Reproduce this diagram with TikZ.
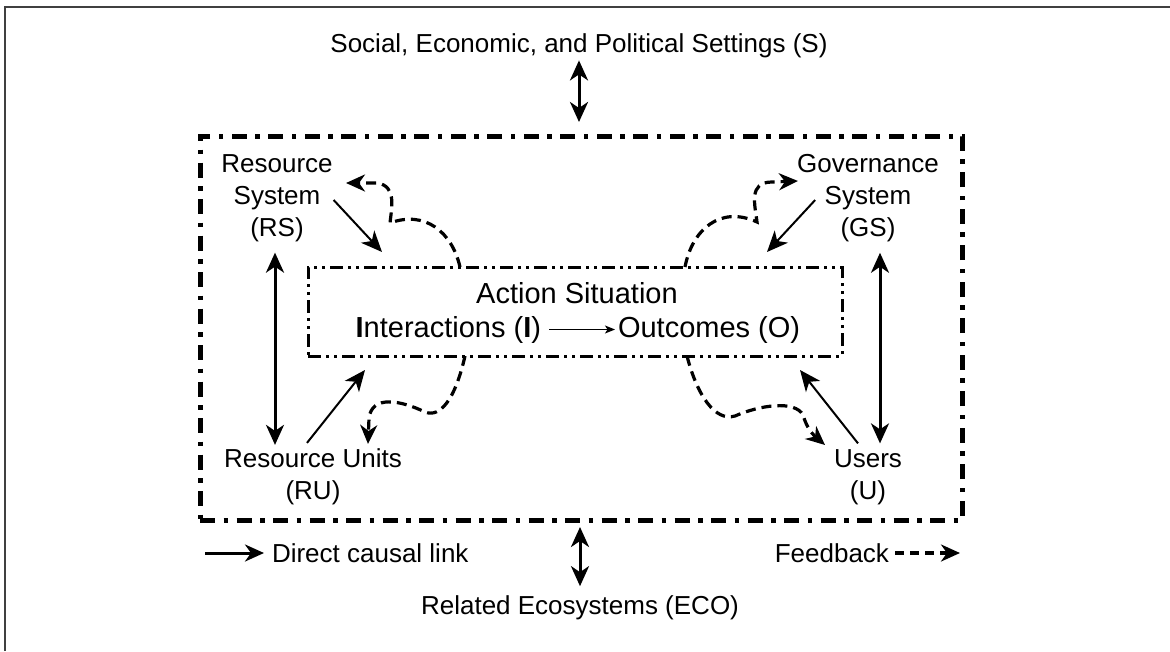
\documentclass[tikz,border=0pt]{standalone}
\usepackage{fontspec}
\setmainfont{Liberation Sans}
\usetikzlibrary{arrows.meta}
\begin{document}
\begin{tikzpicture}[x=1pt,y=-1pt,
 lab/.style={font=\fontsize{26}{32}\selectfont, inner sep=0pt, outer sep=0pt, align=center},
 inlab/.style={font=\fontsize{29}{34}\selectfont, inner sep=0pt, outer sep=0pt},
 outerbox/.style={draw, line width=5pt, inner sep=0pt, outer sep=0pt, dash pattern=on 15pt off 8.5pt on 4.5pt off 8.5pt},
 innerbox/.style={draw, line width=3pt, inner sep=0pt, outer sep=0pt, dash pattern=on 13pt off 5pt on 3pt off 5pt on 3pt off 5pt},
 dbl/.style={line width=3pt, {Stealth[length=20pt,width=18pt,inset=6pt]}-{Stealth[length=20pt,width=18pt,inset=6pt]}},
 causal/.style={line width=2pt, -{Stealth[length=21pt,width=18pt,inset=6pt]}},
 legarrow/.style={line width=3pt, -{Stealth[length=19pt,width=17pt,inset=6pt]}},
 fb/.style={line width=3.2pt, dash pattern=on 10pt off 6pt, -{Stealth[length=19pt,width=17pt,inset=6pt]}},
 frameline/.style={line width=2pt, draw=black!75},
]
\useasboundingbox (0,0) rectangle (1170,651);
\draw[frameline] (5,651) -- (5,7) -- (1170,7);

% boxes
\node[outerbox, anchor=north west, minimum width=762pt, minimum height=384pt] (outer) at (200,136) {};
\node[innerbox, anchor=north west, minimum width=534pt, minimum height=89pt] (AS) at (308,267) {};

% action situation text
\node[inlab, anchor=base] (AST) at (577,303) {Action Situation};
\node[inlab, anchor=base east] (I) at (541,337) {\textbf{I}nteractions (\textbf{I})};
\node[inlab, anchor=base west] (O) at (618,337) {Outcomes (O)};
\draw[line width=1.3pt, -{Stealth[length=10pt,width=8pt,inset=2.5pt]}, shorten <=8pt, shorten >=3pt] (I.east) -- (O.west);

% labels
\node[lab, anchor=base] (S) at (579,52) {Social, Economic, and Political Settings (S)};
\node[lab, anchor=base] (ECO) at (580,614) {Related Ecosystems (ECO)};
\node[lab] (RS) at (277,198) {Resource\\System\\(RS)};
\node[lab] (GS) at (868,198) {Governance\\System\\(GS)};
\node[lab] (RU) at (313,477) {Resource Units\\(RU)};
\node[lab] (U) at (868,477) {Users\\(U)};

% double arrows
\draw[dbl, shorten <=3pt, shorten >=14pt] (S.south) -- (S.south |- outer.north);
\draw[dbl, shorten <=7pt, shorten >=9pt] (ECO.north |- outer.south) -- (ECO.north);
\draw[dbl, shorten <=11pt, shorten >=4pt] ([xshift=-2pt]RS.south) -- ([xshift=-2pt]RS.south |- RU.north);
\draw[dbl, shorten <=11pt, shorten >=6pt] ([xshift=12pt]GS.south) -- ([xshift=12pt]GS.south |- U.north);

% causal links
\coordinate (rsTip) at (382,252);
\coordinate (gsTip) at (767,252);
\coordinate (ruTip) at (365,370);
\coordinate (uTip) at (800,370);
\draw[causal] ([xshift=1pt,yshift=-2pt]RS.east) -- (rsTip);
\draw[causal] ([xshift=18pt,yshift=-2pt]GS.west) -- (gsTip);
\draw[causal] ([xshift=-6pt,yshift=6pt]RU.north) -- (ruTip);
\draw[causal] ([xshift=-10pt,yshift=6pt]U.north) -- (uTip);

% feedback
\coordinate (fb1) at (346,183);
\coordinate (fb2) at (798,181);
\coordinate (fb3) at (368,444);
\coordinate (fb4) at (825,445);
\draw[fb] ([xshift=152pt]AS.north west) .. controls (452,232) and (425,210) .. (390,223)
  .. controls (392,205) and (396,187) .. (378,183) -- (fb1);
\draw[fb] ([xshift=377pt]AS.north west) .. controls (692,230) and (720,205) .. (757,222)
  .. controls (755,205) and (748,182) .. (772,182) -- (fb2);
\draw[fb] ([xshift=157pt]AS.south west) .. controls (455,400) and (440,418) .. (425,412)
  .. controls (400,400) and (372,395) .. (369,418) -- (fb3);
\draw[fb] ([xshift=379pt]AS.south west) .. controls (697,395) and (715,422) .. (735,416)
  .. controls (760,405) and (795,400) .. (803,415) .. controls (806,425) and (810,432) .. (fb4);

% legend
\node[lab, anchor=west] (DCL) at (272,553) {Direct causal link};
\coordinate (legA) at (205,553);
\draw[legarrow, shorten >=8pt] (legA) -- (DCL.west);
\node[lab, anchor=east] (FBK) at (889,553) {Feedback};
\coordinate (legB) at (960,553);
\draw[fb, dash pattern=on 9pt off 6pt, shorten <=6pt] (FBK.east) -- (legB);
\end{tikzpicture}
\end{document}
